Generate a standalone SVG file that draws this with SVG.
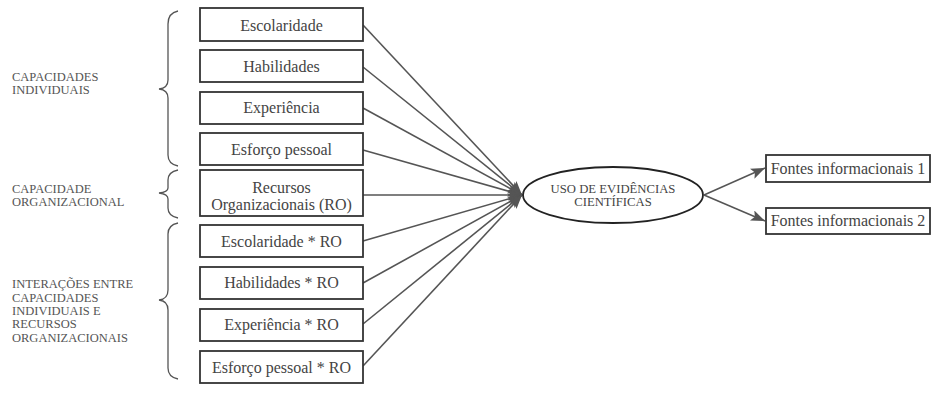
<svg xmlns="http://www.w3.org/2000/svg" width="947" height="397" viewBox="0 0 947 397">
<style>
.box{fill:#fff;stroke:#333;stroke-width:1.8}
.bt{font-family:"Liberation Serif","DejaVu Serif",serif;font-size:16px;fill:#444;text-anchor:middle}
.lab{font-family:"Liberation Serif","DejaVu Serif",serif;font-size:12.5px;fill:#555}
.et{font-family:"Liberation Serif","DejaVu Serif",serif;font-size:12.7px;fill:#444;text-anchor:middle}
.con{stroke:#555;stroke-width:1.6;fill:none}
.brace{stroke:#555;stroke-width:1.3;fill:none}
</style>
<defs>
<marker id="ah" markerUnits="userSpaceOnUse" markerWidth="15" markerHeight="12" refX="14" refY="5.5" orient="auto">
<path d="M0,0 L14,5.5 L0,11 L3,5.5 z" fill="#555"/>
</marker>
</defs>
<rect width="947" height="397" fill="#fff"/>
<g id="labels">
<text class="lab" x="12" y="80.5">CAPACIDADES</text>
<text class="lab" x="12" y="94">INDIVIDUAIS</text>
<text class="lab" x="12" y="193">CAPACIDADE</text>
<text class="lab" x="12" y="206">ORGANIZACIONAL</text>
<text class="lab" x="12" y="288">INTERAÇÕES ENTRE</text>
<text class="lab" x="12" y="301.5">CAPACIDADES</text>
<text class="lab" x="12" y="315">INDIVIDUAIS E</text>
<text class="lab" x="12" y="328">RECURSOS</text>
<text class="lab" x="12" y="341.5">ORGANIZACIONAIS</text>
</g>
<g id="braces">
<path class="brace" d="M178,11 Q168,13 168,24 L168,80 Q168,88 159,89 Q168,90 168,98 L168,155 Q168,164 178,166"/>
<path class="brace" d="M178,170 Q168,172 168,180 L168,188 Q168,192 159,193 Q168,194 168,199 L168,208 Q168,216 178,218"/>
<path class="brace" d="M178,223 Q168,225 168,234 L168,290 Q168,299 159,300 Q168,301 168,310 L168,368 Q168,377 178,379"/>
</g>
<g id="connectors">
<line class="con" x1="363" y1="25" x2="522" y2="195" marker-end="url(#ah)"/>
<line class="con" x1="363" y1="67" x2="522" y2="195" marker-end="url(#ah)"/>
<line class="con" x1="363" y1="108" x2="522" y2="195" marker-end="url(#ah)"/>
<line class="con" x1="363" y1="150" x2="522" y2="195" marker-end="url(#ah)"/>
<line class="con" x1="363" y1="195" x2="522" y2="195" marker-end="url(#ah)"/>
<line class="con" x1="363" y1="241" x2="522" y2="195" marker-end="url(#ah)"/>
<line class="con" x1="363" y1="283" x2="522" y2="195" marker-end="url(#ah)"/>
<line class="con" x1="363" y1="324" x2="522" y2="195" marker-end="url(#ah)"/>
<line class="con" x1="363" y1="366" x2="522" y2="195" marker-end="url(#ah)"/>
<line class="con" x1="704" y1="195" x2="765" y2="168" marker-end="url(#ah)"/>
<line class="con" x1="704" y1="195" x2="765" y2="221" marker-end="url(#ah)"/>
</g>
<g id="n-escolaridade"><rect class="box" x="200" y="8" width="163" height="33"/><text class="bt" x="281.5" y="30.5">Escolaridade</text></g>
<g id="n-habilidades"><rect class="box" x="200" y="50" width="163" height="32"/><text class="bt" x="281.5" y="71.5">Habilidades</text></g>
<g id="n-experiencia"><rect class="box" x="200" y="92" width="163" height="32"/><text class="bt" x="281.5" y="113.3">Experiência</text></g>
<g id="n-esforco"><rect class="box" x="200" y="133" width="163" height="32"/><text class="bt" x="281.5" y="155">Esforço pessoal</text></g>
<g id="n-recursos"><rect class="box" x="200" y="170" width="163" height="46"/><text class="bt" x="281.5" y="193">Recursos</text><text class="bt" x="281.5" y="210">Organizacionais (RO)</text></g>
<g id="n-escolaridade-ro"><rect class="box" x="200" y="225" width="163" height="32"/><text class="bt" x="281.5" y="246.5">Escolaridade * RO</text></g>
<g id="n-habilidades-ro"><rect class="box" x="200" y="267" width="163" height="32"/><text class="bt" x="281.5" y="288">Habilidades * RO</text></g>
<g id="n-experiencia-ro"><rect class="box" x="200" y="309" width="163" height="32"/><text class="bt" x="281.5" y="330">Experiência * RO</text></g>
<g id="n-esforco-ro"><rect class="box" x="200" y="351" width="163" height="32"/><text class="bt" x="281.5" y="372.5">Esforço pessoal * RO</text></g>
<g id="n-uso"><ellipse cx="613" cy="195" rx="90" ry="28" fill="#fff" stroke="#222" stroke-width="1.8"/><text class="et" x="613" y="193">USO DE EVIDÊNCIAS</text><text class="et" x="613" y="205.5">CIENTÍFICAS</text></g>
<g id="n-fontes1"><rect class="box" x="766" y="155" width="164" height="27"/><text class="bt" x="848" y="174">Fontes informacionais 1</text></g>
<g id="n-fontes2"><rect class="box" x="766" y="208" width="164" height="26"/><text class="bt" x="848" y="226">Fontes informacionais 2</text></g>
</svg>
